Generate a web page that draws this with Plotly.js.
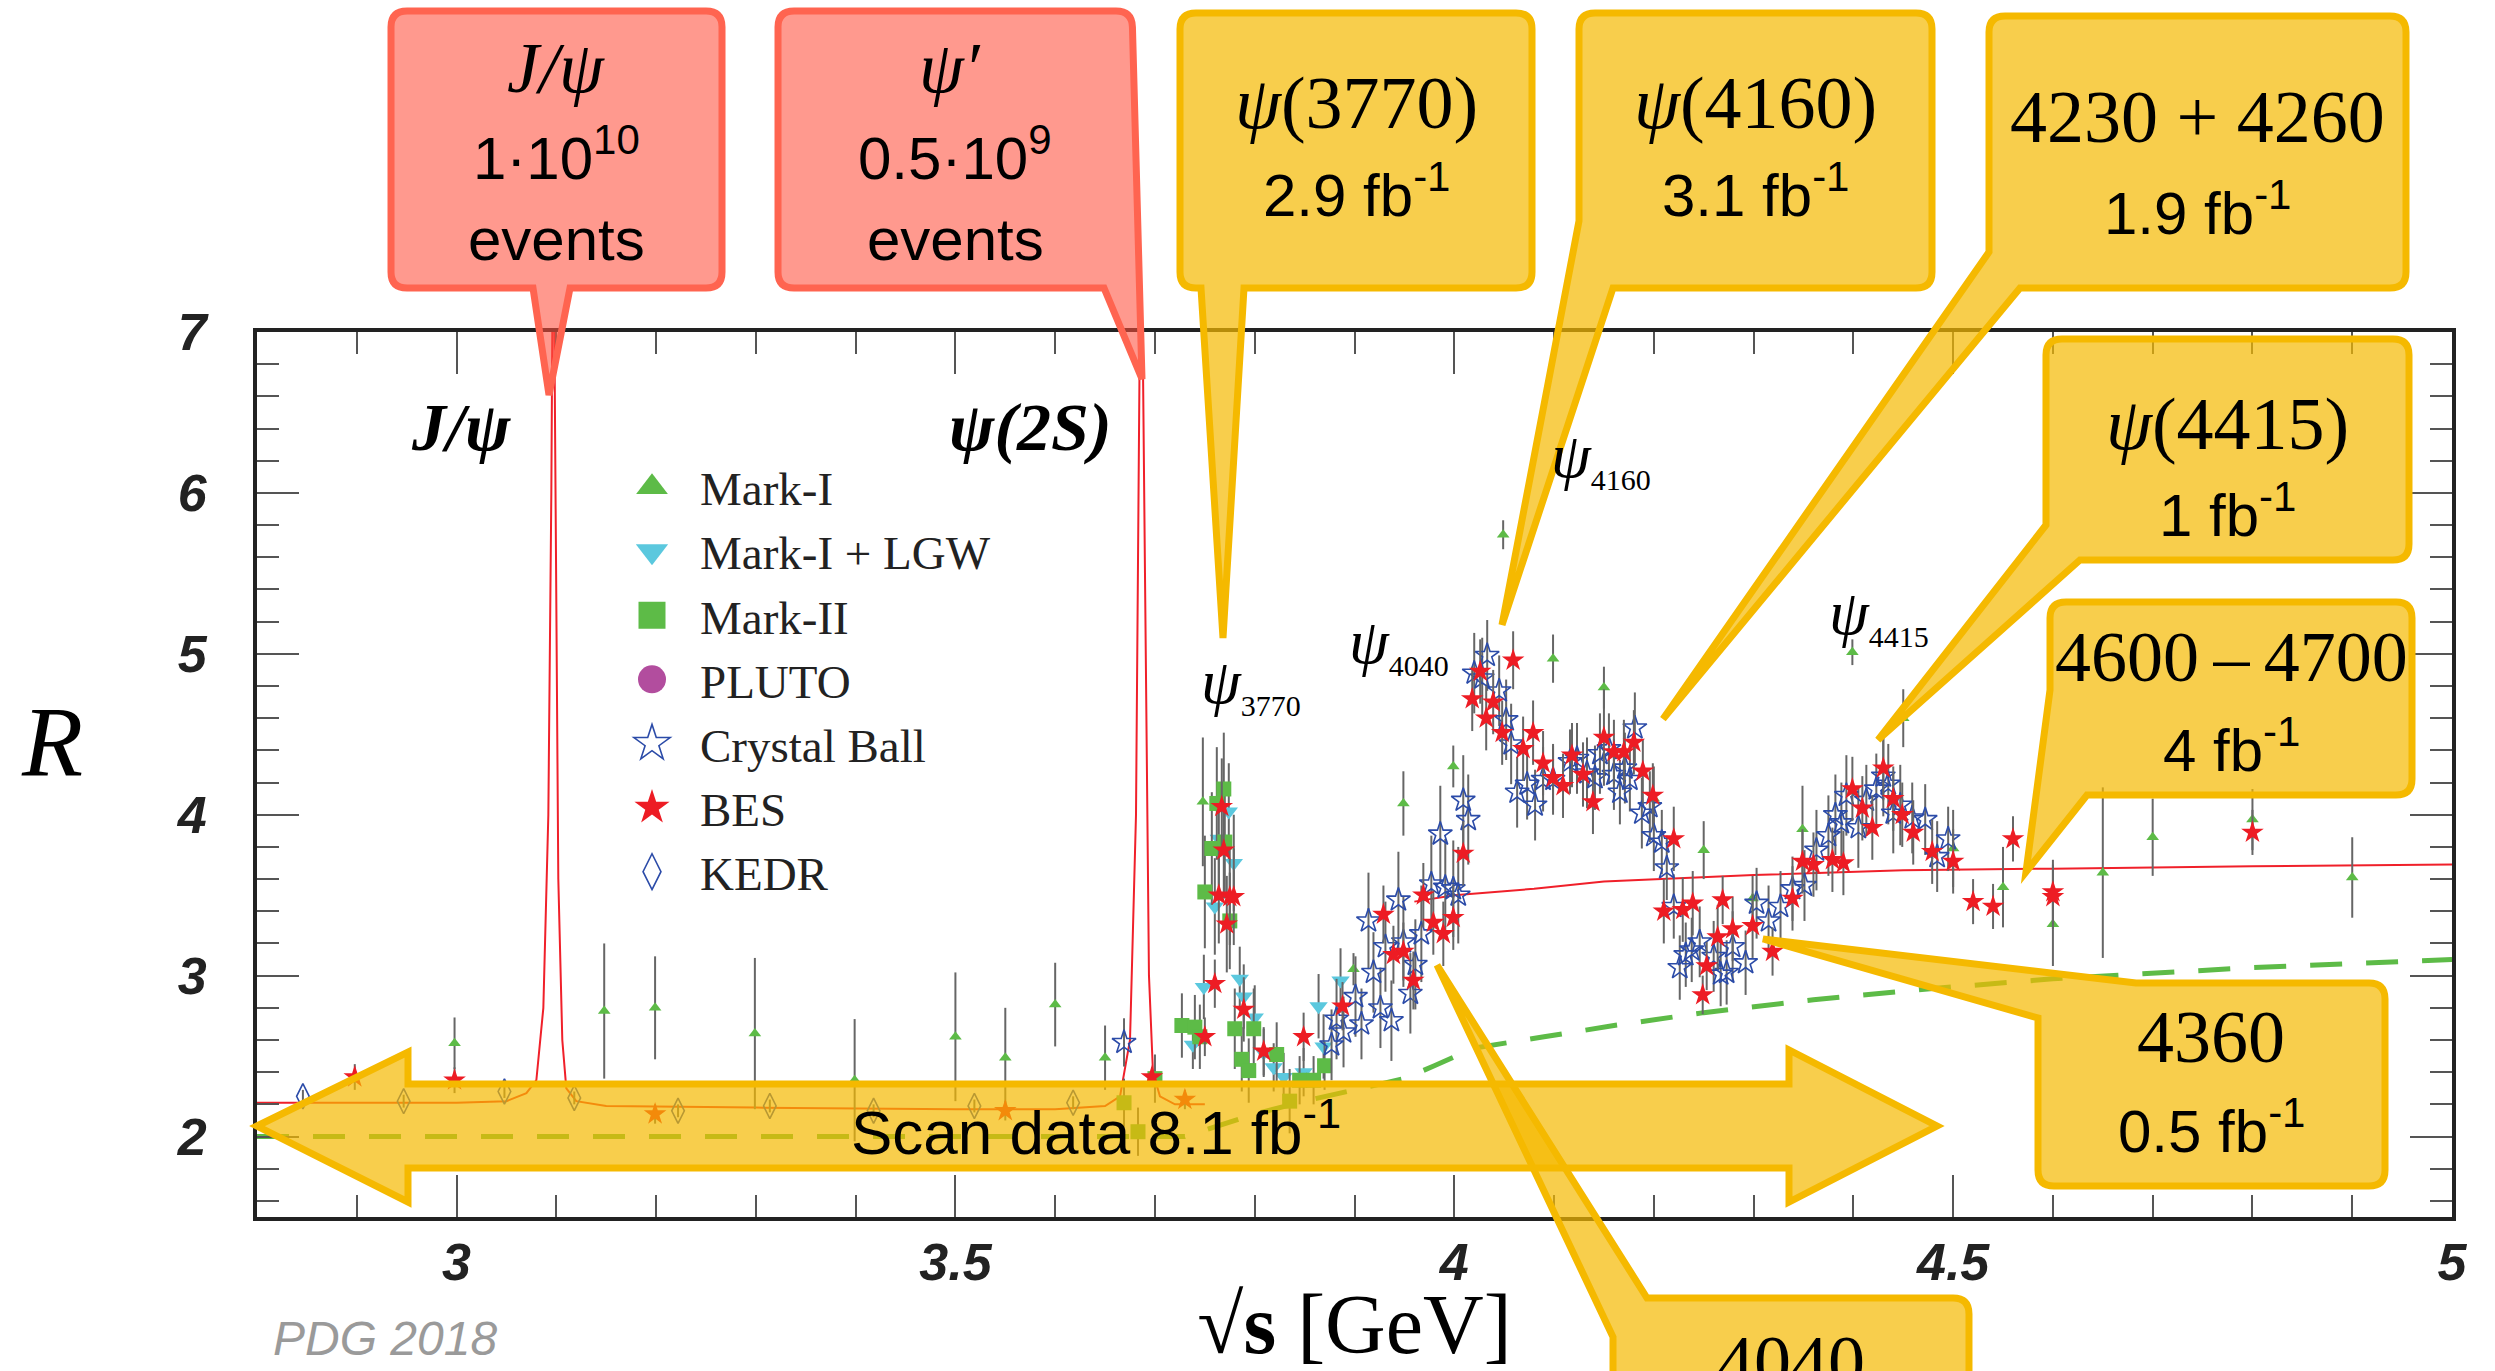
<!DOCTYPE html>
<html><head><meta charset="utf-8">
<script src="https://cdn.plot.ly/plotly-3.0.1.min.js"></script>
<style>html,body{margin:0;padding:0;background:#fff;} #chart{width:2495px;height:1371px;}</style>
</head><body><div id="chart"></div>
<script>
// ---------------- DATA ----------------
const markI_x = [2.998,3.148,3.199,3.299,3.399,3.50,3.55,3.60,3.65,3.748,3.899,3.949,3.999,4.049,4.099,4.150,4.200,4.250,4.299,4.349,4.399,4.450,4.500,4.550,4.600,4.650,4.700,4.800,4.900];
const markI_y = [2.58,2.78,2.80,2.64,2.35,2.62,2.49,2.82,2.49,4.08,3.04,4.07,4.30,5.74,4.97,4.79,4.10,3.78,3.48,3.91,5.01,4.60,3.79,3.55,3.32,3.64,3.86,3.97,3.61];
const markI_e = [0.16,0.42,0.32,0.47,0.38,0.4,0.31,0.26,0.2,0.4,0.1,0.2,0.13,0.09,0.15,0.13,0.2,0.18,0.14,0.27,0.08,0.18,0.24,0.25,0.26,0.53,0.24,0.19,0.25];

const lgw_x = [3.738,3.749,3.760,3.764,3.774,3.779,3.785,3.789,3.800,3.809,3.819,3.829,3.849,3.864,3.869,3.886];
const lgw_y = [2.57,2.93,3.43,3.85,4.02,3.70,2.98,2.87,2.74,2.52,2.43,2.37,2.40,2.81,2.56,2.97];
const lgw_e = [0.15,0.2,0.3,0.3,0.3,0.3,0.2,0.2,0.2,0.15,0.15,0.15,0.15,0.2,0.2,0.2];

const markII_x = [3.669,3.683,3.70,3.727,3.740,3.745,3.750,3.757,3.762,3.769,3.770,3.775,3.780,3.787,3.794,3.799,3.822,3.835,3.845,3.859,3.870];
const markII_y = [2.21,2.03,2.36,2.69,2.68,2.62,3.52,3.79,4.07,4.16,3.83,3.34,2.67,2.48,2.41,2.67,2.51,2.22,2.35,2.35,2.44];
const markII_e = [0.15,0.15,0.15,0.2,0.2,0.2,0.35,0.35,0.35,0.35,0.35,0.3,0.25,0.2,0.2,0.25,0.2,0.2,0.15,0.15,0.15];

// PLUTO: no point of it is visible in the picture (legend entry only)
const pluto_x = [null];
const pluto_y = [null];

const cb_x = [3.669,3.877,3.882,3.889,3.901,3.907,3.914,3.919,3.926,3.931,3.937,3.944,3.949,3.956,3.961,3.967,3.977,3.986,3.991,3.999,4.004,4.009,4.014,4.020,4.028,4.033,4.045,4.052,4.057,4.063,4.073,4.081,4.089,4.099,4.116,4.123,4.133,4.141,4.146,4.155,4.160,4.166,4.171,4.176,4.181,4.188,4.196,4.200,4.208,4.213,4.220,4.226,4.232,4.238,4.246,4.260,4.267,4.273,4.279,4.292,4.303,4.315,4.327,4.339,4.351,4.363,4.375,4.382,4.388,4.393,4.405,4.413,4.423,4.430,4.435,4.440,4.447,4.459,4.472,4.484,4.495];
const cb_y = [2.585,2.57,2.73,2.65,2.87,2.70,3.34,3.02,2.80,3.18,2.72,3.47,3.21,2.89,3.07,3.26,3.57,3.88,3.55,3.54,3.50,4.09,3.97,4.88,4.85,4.99,4.77,4.59,4.44,4.14,4.19,4.06,4.22,4.22,4.33,4.35,4.26,4.23,4.38,4.41,4.25,4.14,4.29,4.22,4.54,4.01,4.05,3.87,3.83,3.67,3.43,3.05,3.13,3.16,3.21,3.12,3.01,3.02,3.18,3.08,3.45,3.34,3.43,3.54,3.56,3.78,3.87,4.00,3.95,4.12,3.92,4.09,4.16,4.24,4.19,4.01,4.06,3.98,3.97,3.74,3.85];
const cb_e = [0.15,0.22,0.25,0.22,0.25,0.22,0.3,0.25,0.25,0.28,0.25,0.3,0.28,0.25,0.28,0.3,0.3,0.3,0.3,0.3,0.3,0.28,0.28,0.25,0.25,0.22,0.22,0.25,0.25,0.22,0.22,0.22,0.2,0.22,0.2,0.22,0.22,0.2,0.25,0.22,0.22,0.2,0.22,0.2,0.22,0.22,0.22,0.22,0.2,0.2,0.2,0.2,0.2,0.2,0.22,0.22,0.2,0.2,0.22,0.2,0.22,0.22,0.22,0.2,0.22,0.25,0.25,0.25,0.25,0.25,0.25,0.22,0.22,0.25,0.25,0.25,0.25,0.22,0.22,0.22,0.2];

const bes_x = [2.898,2.998,3.199,3.55,3.697,3.73,3.750,3.760,3.764,3.767,3.769,3.772,3.775,3.779,3.789,3.809,3.849,3.888,3.929,3.939,3.949,3.959,3.969,3.979,3.989,3.999,4.009,4.018,4.026,4.032,4.039,4.048,4.059,4.069,4.079,4.089,4.099,4.109,4.118,4.129,4.139,4.150,4.160,4.170,4.180,4.189,4.199,4.210,4.220,4.229,4.239,4.249,4.253,4.264,4.269,4.279,4.299,4.319,4.339,4.349,4.360,4.379,4.390,4.399,4.409,4.419,4.430,4.440,4.449,4.460,4.479,4.500,4.520,4.540,4.560,4.600,4.600,4.800];
const bes_y = [2.37,2.35,2.14,2.16,2.37,2.23,2.62,2.95,3.50,4.05,3.78,3.32,3.49,3.49,2.79,2.53,2.62,2.81,3.38,3.13,3.15,2.97,3.50,3.33,3.26,3.36,3.76,4.72,4.89,4.60,4.70,4.51,4.96,4.41,4.51,4.32,4.23,4.18,4.37,4.25,4.08,4.48,4.39,4.39,4.45,4.27,4.12,3.40,3.85,3.41,3.45,2.88,3.06,3.24,3.47,3.29,3.31,3.15,3.48,3.71,3.69,3.72,3.70,4.16,4.04,3.92,4.29,4.10,4.00,3.89,3.77,3.71,3.46,3.43,3.85,3.52,3.49,3.89];
const bes_e = [0.08,0.08,0.06,0.06,0.06,0.06,0.12,0.15,0.3,0.3,0.3,0.3,0.3,0.3,0.2,0.15,0.15,0.15,0.18,0.18,0.18,0.18,0.2,0.2,0.2,0.2,0.2,0.2,0.2,0.2,0.2,0.2,0.18,0.2,0.2,0.2,0.2,0.2,0.2,0.2,0.2,0.3,0.2,0.2,0.2,0.2,0.2,0.2,0.2,0.2,0.2,0.12,0.15,0.2,0.15,0.2,0.2,0.15,0.2,0.2,0.2,0.2,0.2,0.2,0.2,0.2,0.2,0.2,0.2,0.2,0.2,0.2,0.14,0.14,0.14,0.2,0.2,0.14];

const kedr_x = [2.846,2.947,3.048,3.118,3.222,3.314,3.418,3.519,3.618];
const kedr_y = [2.25,2.22,2.28,2.24,2.16,2.19,2.16,2.19,2.21];
const kedr_e = [0.04,0.04,0.04,0.04,0.04,0.04,0.04,0.04,0.04];

// theory curves
const bw_x = [2.8,3.0,3.05,3.07,3.08,3.087,3.092,3.095,3.0969,3.099,3.102,3.106,3.11,3.12,3.15,3.3,3.5,3.6,3.65,3.665,3.675,3.681,3.6861,3.69,3.694,3.698,3.705,3.72,3.75];
const bw_y = [2.21,2.21,2.22,2.27,2.35,2.8,4.0,6.0,8.0,6.0,3.6,2.6,2.3,2.22,2.19,2.18,2.17,2.17,2.19,2.25,2.6,4.0,8.0,5.5,3.0,2.4,2.25,2.2,2.2];
const pqcd_x = [3.96,4.0,4.08,4.15,4.3,4.45,4.6,4.8,5.0];
const pqcd_y = [3.46,3.50,3.54,3.585,3.625,3.655,3.665,3.68,3.69];
const qpm_x = [2.8,3.73,3.76,3.8,3.85,3.9,3.95,3.98,4.02,4.09,4.16,4.25,4.36,4.48,4.6,4.8,5.0];
const qpm_y = [2.0,2.0,2.06,2.14,2.22,2.29,2.36,2.44,2.55,2.62,2.69,2.77,2.85,2.92,2.98,3.05,3.10];

// tick values
const xTicks = [3, 3.5, 4, 4.5, 5];
const yTicks = [2, 3, 4, 5, 6, 7];

// ---------------- LAYOUT HELPERS ----------------
const W = 2495, H = 1371;
const ML = 257, MR = 43, MT = 332, MB = 154;
const PW = W - ML - MR, PH = H - MT - MB;
function px(x){ return (x - ML) / PW; }
function py(y){ return (H - MB - y) / PH; }
function P(x, y){ return px(x).toFixed(5) + ',' + py(y).toFixed(5); }
function outline(pts, r){
  const n = pts.length; let d = '';
  for (let i = 0; i < n; i++) {
    const p = pts[i], pr = pts[(i - 1 + n) % n], nx = pts[(i + 1) % n];
    if (p[2]) {
      const ax = pr[0] - p[0], ay = pr[1] - p[1], la = Math.hypot(ax, ay);
      const bx = nx[0] - p[0], by = nx[1] - p[1], lb = Math.hypot(bx, by);
      const a = [p[0] + ax / la * r, p[1] + ay / la * r];
      const b = [p[0] + bx / lb * r, p[1] + by / lb * r];
      d += (i === 0 ? 'M' : 'L') + P(a[0], a[1]) + ' Q' + P(p[0], p[1]) + ' ' + P(b[0], b[1]) + ' ';
    } else {
      d += (i === 0 ? 'M' : 'L') + P(p[0], p[1]) + ' ';
    }
  }
  return d + 'Z';
}
const SERIF = 'Liberation Serif, Times New Roman, serif';
const SANS = 'Liberation Sans, Arial, sans-serif';
const RED_FILL = 'rgba(255,80,60,0.58)', RED_LINE = 'rgb(255,100,80)';
const YEL_FILL = 'rgba(245,185,0,0.70)', YEL_LINE = 'rgb(245,185,0)';

const callouts = [
  {pts: [[391,11,1],[722,11,1],[722,288,1],[570,288],[549,395],[533,288],[391,288,1]], red: true},
  {pts: [[778,11,1],[1132,11,1],[1142,379],[1104,288],[778,288,1]], red: true},
  {pts: [[1180,13,1],[1532,13,1],[1532,288,1],[1244,288],[1223,638],[1201,288],[1180,288,1]]},
  {pts: [[1579,13,1],[1932,13,1],[1932,288,1],[1613,288],[1502,625],[1579,221]]},
  {pts: [[1989,16,1],[2406,16,1],[2406,288,1],[2020,288],[1663,719],[1989,252]]},
  {pts: [[2046,339,1],[2409,339,1],[2409,560,1],[2080,560],[1878,740],[2046,525]]},
  {pts: [[2050,602,1],[2412,602,1],[2412,795,1],[2087,795],[2026,872],[2050,690]]},
  {pts: [[2136,983],[2385,983,1],[2385,1186,1],[2038,1186,1],[2038,1018],[1763,939]]},
  {pts: [[1647,1298],[1969,1298,1],[1969,1480,1],[1613,1480,1],[1613,1337],[1437,965]]},
  {pts: [[257,1126],[408,1052],[408,1084],[1789,1084],[1789,1050],[1937,1126],[1789,1202],[1789,1168],[408,1168],[408,1202]]}
];
const shapes = callouts.map(c => ({
  type: 'path', xref: 'paper', yref: 'paper', layer: 'above',
  path: outline(c.pts, 16),
  fillcolor: c.red ? RED_FILL : YEL_FILL,
  line: {color: c.red ? RED_LINE : YEL_LINE, width: 7}
}));

function txt(text, x, y, size, family, extra){
  return Object.assign({text: text, x: px(x), y: py(y), xref: 'paper', yref: 'paper',
    xanchor: 'center', yanchor: 'middle', showarrow: false,
    font: {family: family, size: size, color: '#000'}}, extra || {});
}
const TS = '\u2009';
const annotations = [
  txt('<i>J/ψ</i>', 556, 68, 72, SERIF),
  txt('1·10<sup>10</sup>', 556, 154, 60, SANS),
  txt('events', 556, 239, 60, SANS),
  txt('<i>ψ′</i>', 950, 68, 72, SERIF),
  txt('0.5·10<sup>9</sup>', 955, 154, 60, SANS),
  txt('events', 955, 239, 60, SANS),
  txt('<i>ψ</i>(3770)', 1356, 103, 74, SERIF),
  txt('2.9 fb<sup>-1</sup>', 1356, 191, 60, SANS),
  txt('<i>ψ</i>(4160)', 1755, 103, 74, SERIF),
  txt('3.1 fb<sup>-1</sup>', 1755, 191, 60, SANS),
  txt('4230 + 4260', 2197, 117, 74, SERIF),
  txt('1.9 fb<sup>-1</sup>', 2197, 209, 60, SANS),
  txt('<i>ψ</i>(4415)', 2227, 424, 74, SERIF),
  txt('1 fb<sup>-1</sup>', 2227, 511, 60, SANS),
  txt('4600' + TS + '–' + TS + '4700', 2231, 657, 72, SERIF),
  txt('4 fb<sup>-1</sup>', 2231, 746, 60, SANS),
  txt('4360', 2211, 1037, 74, SERIF),
  txt('0.5 fb<sup>-1</sup>', 2211, 1127, 60, SANS),
  txt('4040', 1791, 1362, 74, SERIF),
  txt('Scan data 8.1 fb<sup>-1</sup>', 1096, 1128, 62, SANS),
  txt('<b><i>J/ψ</i></b>', 461, 427, 68, SERIF),
  txt('<b><i>ψ(2S)</i></b>', 1030, 427, 68, SERIF),
  txt('<i>ψ</i><sub><span style="font-size:30px">3770</span></sub>', 1251, 684, 64, SERIF),
  txt('<i>ψ</i><sub><span style="font-size:30px">4040</span></sub>', 1399, 644, 64, SERIF),
  txt('<i>ψ</i><sub><span style="font-size:30px">4160</span></sub>', 1601, 458, 64, SERIF),
  txt('<i>ψ</i><sub><span style="font-size:30px">4415</span></sub>', 1879, 615, 64, SERIF),
  txt('<i>R</i>', 52, 741, 100, SERIF),
  txt('<i>PDG 2018</i>', 385, 1338, 48, SANS, {font: {family: SANS, size: 48, color: '#9a9a9a'}})
];

function errs(arr){ return {type: 'data', array: arr, visible: true, color: '#666', thickness: 2, width: 0}; }

const traces = [
  {x: qpm_x, y: qpm_y, mode: 'lines', line: {color: '#5DBB47', width: 5, dash: '32px,24px'}, showlegend: false},
  {x: bw_x, y: bw_y, mode: 'lines', line: {color: '#F0202A', width: 2}, showlegend: false},
  {x: pqcd_x, y: pqcd_y, mode: 'lines', line: {color: '#F0202A', width: 2}, showlegend: false},
  {name: 'Mark-I', x: markI_x, y: markI_y, error_y: errs(markI_e), mode: 'markers',
   marker: {symbol: 'triangle-up', size: 11, color: '#5DBB47'}},
  {name: 'Mark-I + LGW', x: lgw_x, y: lgw_y, error_y: errs(lgw_e), mode: 'markers',
   marker: {symbol: 'triangle-down', size: 16, color: '#5BC8DE'}},
  {name: 'Mark-II', x: markII_x, y: markII_y, error_y: errs(markII_e), mode: 'markers',
   marker: {symbol: 'square', size: 15, color: '#5DBB47'}},
  {name: 'PLUTO', x: pluto_x, y: pluto_y, mode: 'markers',
   marker: {symbol: 'circle', size: 16, color: '#B24D9E'}},
  {name: 'Crystal Ball', x: cb_x, y: cb_y, error_y: errs(cb_e), mode: 'markers',
   marker: {symbol: 'star-open', size: 18, color: '#2B4BA8', line: {width: 1.6}}},
  {name: 'BES', x: bes_x, y: bes_y, error_y: errs(bes_e), mode: 'markers',
   marker: {symbol: 'star', size: 17, color: '#ED1C24', line: {width: 0}}},
  {name: 'KEDR', x: kedr_x, y: kedr_y, error_y: errs(kedr_e), mode: 'markers',
   marker: {symbol: 'diamond-tall-open', size: 18, color: '#2B4BA8', line: {width: 1.6}}}
];

const tickfont = {family: SANS, size: 52, color: '#222', weight: 'bold', style: 'italic'};
const layout = {
  width: W, height: H,
  margin: {l: ML, r: MR, t: MT, b: MB, pad: 0},
  paper_bgcolor: '#fff', plot_bgcolor: '#fff',
  font: {family: SANS, color: '#222'},
  showlegend: true,
  legend: {x: px(604), y: py(450), xanchor: 'left', yanchor: 'top', bgcolor: 'rgba(0,0,0,0)',
    font: {family: SERIF, size: 47, color: '#222'}, traceorder: 'normal', itemwidth: 86},
  xaxis: {range: [2.8, 5.0], tickmode: 'array', tickvals: xTicks, ticktext: xTicks.map(String),
    ticks: 'inside', ticklen: 42, tickwidth: 2, tickcolor: '#555',
    showline: true, linewidth: 4, linecolor: '#222', mirror: 'ticks', showgrid: false, zeroline: false,
    minor: {dtick: 0.1, tick0: 0, ticks: 'inside', ticklen: 22, tickwidth: 2, tickcolor: '#555', showgrid: false},
    tickfont: tickfont, ticklabelstandoff: -3,
    title: {text: '√<b>s</b> [GeV]', font: {family: SERIF, size: 84, color: '#000'}, standoff: 17}},
  yaxis: {range: [1.5, 7.0], tickmode: 'array', tickvals: yTicks, ticktext: yTicks.map(String),
    ticks: 'inside', ticklen: 42, tickwidth: 2, tickcolor: '#555',
    showline: true, linewidth: 4, linecolor: '#222', mirror: 'ticks', showgrid: false, zeroline: false,
    minor: {dtick: 0.2, tick0: 0, ticks: 'inside', ticklen: 22, tickwidth: 2, tickcolor: '#555', showgrid: false},
    tickfont: tickfont, ticklabelstandoff: 36},
  shapes: shapes,
  annotations: annotations
};

// legend symbols are drawn larger than the plotted points in the reference
const legendSymbolScale = [2.5, 1.75, 1.8, 1.75, 1.7, 1.65, 1.6];

Plotly.newPlot('chart', traces, layout, {staticPlot: true, displayModeBar: false}).then(function(gd){
  const items = gd.querySelectorAll('.legend .traces');
  items.forEach(function(item, i){
    const s = legendSymbolScale[i] || 1;
    item.querySelectorAll('path.scatterpts').forEach(function(p){
      const t = p.getAttribute('transform') || '';
      p.setAttribute('transform', t + ' scale(' + s + ')');
      p.style.vectorEffect = 'non-scaling-stroke';
    });
  });
});
</script>
</body></html>
